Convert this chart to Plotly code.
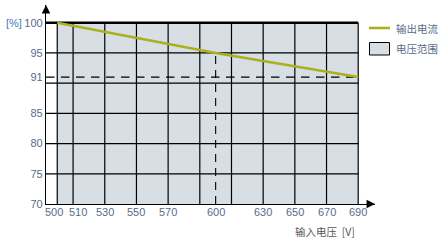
import plotly.graph_objects as go

# ---- data ----
VOLTAGE = [500, 600, 690]          # input voltage [V]
CURRENT = [100, 95, 91]            # output current [%]
VOLT_RANGE = [500, 690]            # voltage range (shaded)
PCT_RANGE = [70, 100]
X_TICKS = [500, 510, 530, 550, 570, 600, 630, 650, 670, 690]
X_TICK_TEXT = ["500", "510", "530", "550", "570", "600", "630", "650", "670", "690"]
X_GRID = [500, 510, 530, 550, 570, 590, 610, 630, 650, 670, 690]
Y_TICKS = [70, 75, 80, 85, 91, 95, 100]
Y_TICK_TEXT = ["70", "75", "80", "85", "91", "95", "100"]
Y_GRID = [75, 80, 85, 90, 95]
MARK_X = 600
MARK_Y = 91

X_MIN, X_MAX = 492.9, 700.6
Y_MIN, Y_MAX = 70, 102.93

TICK_COLOR = "#5b6b88"
CURVE_COLOR = "#aab01e"
FILL_COLOR = "#d7dfe5"
FONT = "Liberation Sans, Arial, sans-serif"
CJK = "Noto Sans CJK SC, sans-serif"

fig = go.Figure()

fig.add_trace(go.Scatter(
    x=VOLTAGE, y=CURRENT, mode="lines",
    line=dict(color=CURVE_COLOR, width=2.6),
    showlegend=False, hoverinfo="skip", cliponaxis=False,
))

shapes = []
# shaded voltage range
shapes.append(dict(type="rect", xref="x", yref="y", layer="below",
                   x0=VOLT_RANGE[0], x1=VOLT_RANGE[1], y0=PCT_RANGE[0], y1=PCT_RANGE[1],
                   fillcolor=FILL_COLOR, line=dict(width=0)))
# vertical grid
for gx in X_GRID:
    shapes.append(dict(type="line", xref="x", yref="y", layer="below",
                       x0=gx, x1=gx, y0=PCT_RANGE[0], y1=PCT_RANGE[1],
                       line=dict(color="black", width=1.2)))
# horizontal grid
for gy in Y_GRID:
    shapes.append(dict(type="line", xref="x", yref="y", layer="below",
                       x0=X_MIN, x1=VOLT_RANGE[1], y0=gy, y1=gy,
                       line=dict(color="black", width=1.2)))
# thick top line at 100
shapes.append(dict(type="line", xref="x", yref="y", layer="below",
                   x0=X_MIN, x1=VOLT_RANGE[1], y0=PCT_RANGE[1], y1=PCT_RANGE[1],
                   line=dict(color="black", width=2.4)))
# dashed reference lines
shapes.append(dict(type="line", xref="x", yref="y", layer="below",
                   x0=X_MIN, x1=VOLT_RANGE[1], y0=MARK_Y, y1=MARK_Y,
                   line=dict(color="black", width=1.1, dash="8.5px,6.5px")))
shapes.append(dict(type="line", xref="x", yref="y", layer="below",
                   x0=MARK_X, x1=MARK_X, y0=PCT_RANGE[0], y1=CURRENT[1],
                   line=dict(color="black", width=1.1, dash="8px,6px")))

# manual legend
def px2paper_x(px):
    return (px - 46) / 329.0

def px2paper_y(py):
    return (204 - py) / 199.0

shapes.append(dict(type="line", xref="paper", yref="paper",
                   x0=px2paper_x(369), x1=px2paper_x(390),
                   y0=px2paper_y(28), y1=px2paper_y(28),
                   line=dict(color=CURVE_COLOR, width=2.6)))
shapes.append(dict(type="rect", xref="paper", yref="paper",
                   x0=px2paper_x(369.5), x1=px2paper_x(389.5),
                   y0=px2paper_y(42.5), y1=px2paper_y(55),
                   fillcolor=FILL_COLOR, line=dict(color="black", width=1)))

annotations = []
annotations.append(dict(xref="paper", yref="paper", x=px2paper_x(393.5), y=px2paper_y(28.5),
                        text="输出电流", showarrow=False, xanchor="left", yanchor="middle",
                        font=dict(family=CJK, size=10.5, color=TICK_COLOR)))
annotations.append(dict(xref="paper", yref="paper", x=px2paper_x(393.5), y=px2paper_y(48.5),
                        text="电压范围", showarrow=False, xanchor="left", yanchor="middle",
                        font=dict(family=CJK, size=10.5, color=TICK_COLOR)))

# x tick labels (500/510 pushed apart as in the original)
X_SHIFT = {500: -3, 510: 5}
for v, t in zip(X_TICKS, X_TICK_TEXT):
    annotations.append(dict(xref="x", yref="y", x=v, y=PCT_RANGE[0], text=t,
                            showarrow=False, xanchor="center", yanchor="middle",
                            xshift=X_SHIFT.get(v, 0), yshift=-8,
                            font=dict(family=FONT, size=11, color=TICK_COLOR)))

# [%] unit label
annotations.append(dict(xref="paper", yref="paper", x=px2paper_x(4), y=px2paper_y(23),
                        text="[%]", showarrow=False, xanchor="left", yanchor="middle",
                        font=dict(family=FONT, size=11, color="#3f7cc0")))
# x axis title
annotations.append(dict(xref="paper", yref="paper", x=px2paper_x(357), y=px2paper_y(231.5),
                        text="输入电压  [V]", showarrow=False, xanchor="right", yanchor="middle",
                        font=dict(family=CJK, size=10.5, color="#555555")))
# axis arrows
annotations.append(dict(xref="x", yref="y", axref="x", ayref="y",
                        x=X_MAX, y=Y_MIN, ax=X_MAX - 6, ay=Y_MIN, text="",
                        showarrow=True, arrowhead=2, arrowsize=1.3, arrowwidth=1.3,
                        arrowcolor="black"))
annotations.append(dict(xref="x", yref="y", axref="x", ayref="y",
                        x=X_MIN, y=Y_MAX, ax=X_MIN, ay=Y_MAX - 1, text="",
                        showarrow=True, arrowhead=2, arrowsize=1.3, arrowwidth=1.3,
                        arrowcolor="black"))

fig.update_layout(
    width=443, height=243, autosize=False,
    margin=dict(l=46, r=68, t=5, b=39, pad=0),
    paper_bgcolor="white", plot_bgcolor="white",
    shapes=shapes, annotations=annotations, showlegend=False,
    xaxis=dict(range=[X_MIN, X_MAX], showgrid=False, zeroline=False,
               showline=True, linecolor="black", linewidth=1.3,
               showticklabels=False, ticks=""),
    yaxis=dict(range=[Y_MIN, Y_MAX], showgrid=False, zeroline=False,
               showline=True, linecolor="black", linewidth=1.3,
               tickmode="array", tickvals=Y_TICKS, ticktext=Y_TICK_TEXT,
               ticks="", ticklabelstandoff=0,
               tickfont=dict(family=FONT, size=11, color=TICK_COLOR)),
)

fig.write_html("out.html")
